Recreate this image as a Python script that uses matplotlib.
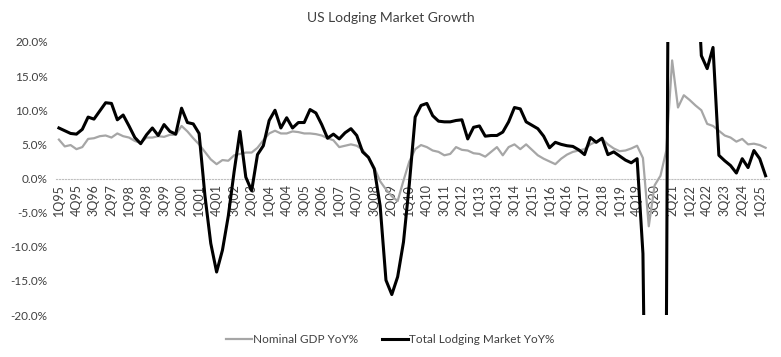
import numpy as np
from matplotlib import pyplot as plt

# quarterly labels 1Q95 .. 2Q25
quarters = ["%dQ%02d" % (q, y % 100) for y in range(1995, 2026) for q in range(1, 5)][:122]

gdp_yoy = [5.7, 4.7, 4.9, 4.3, 4.6, 5.8, 5.9, 6.2, 6.3, 6.0,
           6.6, 6.2, 6.0, 5.5, 5.2, 6.0, 6.0, 6.2, 6.1, 6.4,
           6.4, 7.7, 6.9, 5.9, 5.0, 3.9, 2.8, 2.1, 2.7, 2.6,
           3.4, 3.6, 3.8, 3.8, 4.5, 5.6, 6.6, 7.0, 6.6, 6.6,
           6.9, 6.8, 6.6, 6.6, 6.5, 6.3, 5.9, 5.6, 4.6, 4.8,
           5.0, 4.8, 4.2, 3.1, 1.6, -0.4, -1.6, -2.6, -3.3, -0.3,
           2.5, 4.3, 4.9, 4.6, 4.1, 3.9, 3.4, 3.6, 4.6, 4.2,
           4.1, 3.7, 3.6, 3.2, 3.9, 4.6, 3.4, 4.6, 5.0, 4.3,
           5.0, 4.2, 3.4, 2.9, 2.5, 2.1, 2.9, 3.5, 3.9, 4.1,
           4.3, 5.0, 5.4, 5.8, 5.0, 4.4, 4.0, 4.1, 4.4, 4.8,
           3.0, -7.0, -1.0, 0.4, 4.1, 17.3, 10.4, 12.2, 11.5, 10.7,
           10.0, 8.0, 7.7, 7.0, 6.3, 6.0, 5.4, 5.8, 5.0, 5.1,
           4.9, 4.5]

lodging_yoy = [7.4, 7.0, 6.6, 6.5, 7.2, 9.0, 8.7, 9.9, 11.1, 11.0,
               8.6, 9.3, 7.7, 6.0, 5.1, 6.4, 7.4, 6.3, 7.9, 6.9,
               6.5, 10.3, 8.2, 8.0, 6.6, -2.5, -9.5, -13.7, -10.5, -5.5,
               1.0, 6.9, 0.2, -1.8, 3.5, 4.8, 8.5, 10.0, 7.4, 8.9,
               7.4, 8.2, 8.2, 10.1, 9.6, 7.9, 5.9, 6.5, 5.8, 6.7,
               7.3, 6.3, 3.9, 3.1, 1.4, -4.0, -14.9, -17.0, -14.4, -9.3,
               -0.8, 9.0, 10.7, 11.0, 9.2, 8.4, 8.3, 8.3, 8.5, 8.6,
               5.8, 7.5, 7.7, 6.2, 6.3, 6.3, 6.8, 8.3, 10.4, 10.2,
               8.3, 7.8, 7.3, 6.2, 4.5, 5.3, 5.0, 4.8, 4.7, 4.2,
               3.5, 6.0, 5.3, 5.9, 3.5, 3.9, 3.3, 2.7, 2.3, 2.9,
               -11.0, -80.0, -55.0, -45.0, -25.0, 150.0, 90.0, 60.0, 40.0, 35.0,
               18.0, 16.1, 19.2, 3.4, 2.6, 1.9, 0.8, 2.9, 1.6, 4.1,
               2.9, 0.4]

y_ticks = [-20, -15, -10, -5, 0, 5, 10, 15, 20]

plt.rcParams['font.family'] = ['Lato', 'DejaVu Sans']

fig = plt.figure(figsize=(7.81, 3.57), dpi=100)
ax = fig.add_axes([0.0717, 0.1176, 0.9123, 0.7648])

x = np.arange(len(quarters))
ax.plot(x, np.array(gdp_yoy) / 100, color='#A6A6A6', lw=1.6, label='Nominal GDP YoY%', zorder=3)
ax.plot(x, np.array(lodging_yoy) / 100, color='black', lw=2.2, label='Total Lodging Market YoY%', zorder=4)

# category axis sits on the zero line (set before tick labels, it resets ticks)
for s in ['top', 'right', 'left']:
    ax.spines[s].set_visible(False)
ax.spines['bottom'].set_position(('data', 0))
ax.spines['bottom'].set_color('#BFBFBF')
ax.spines['bottom'].set_linestyle(':')
ax.spines['bottom'].set_linewidth(0.8)

ax.set_xlim(-0.5, len(quarters) - 0.5)
ax.set_ylim(-0.2, 0.2)
ax.set_yticks([v / 100 for v in y_ticks])
ax.set_yticklabels(["%.1f%%" % v for v in y_ticks])

ax.set_xticks(x[::3])
ax.set_xticklabels(quarters[::3], rotation=90, fontsize=9, color='#404040')
ax.tick_params(axis='y', length=0, labelsize=8.5, labelcolor='#404040', pad=6)
ax.tick_params(axis='x', length=0, pad=4)

fig.text(0.5, 0.95, 'US Lodging Market Growth', ha='center', va='center', fontsize=10, color='#404040')
fig.legend(loc='center', bbox_to_anchor=(0.5, 0.048), ncol=2, frameon=False, fontsize=8.5,
           handlelength=2.2, handletextpad=0.1, columnspacing=2.0, labelcolor='#404040')

fig.savefig('out.png', dpi=100)
